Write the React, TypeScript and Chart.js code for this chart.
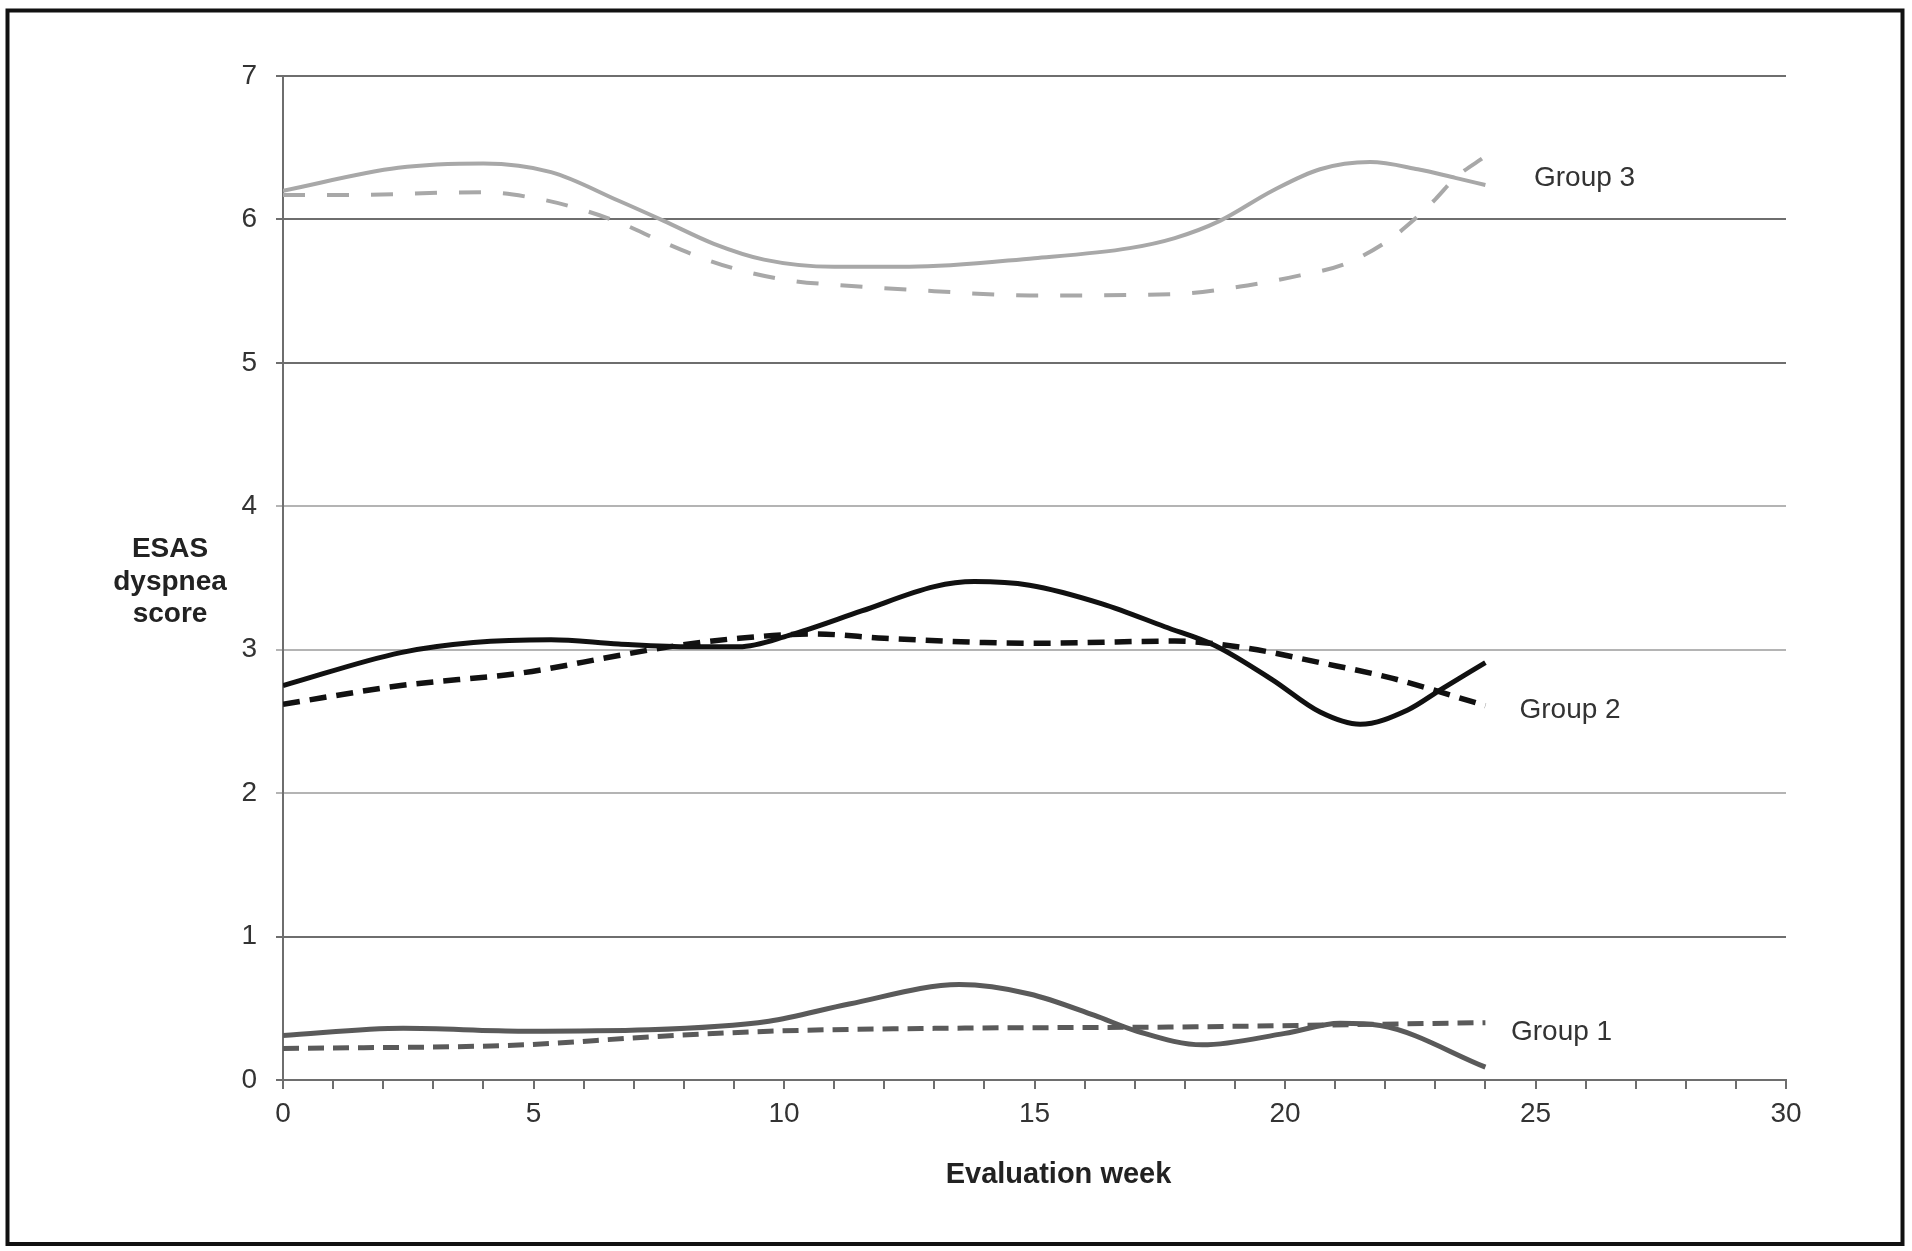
import React, { useEffect, useRef } from "react";
import { Chart, registerables } from "chart.js";

Chart.register(...registerables);

// ---- Data ----
const G3_OBS_WEEKS = [0, 2.3, 4.0, 5.35, 6.7, 7.6, 8.6, 9.6, 11.0, 12.5, 15.0, 16.9, 17.8, 18.7, 19.75, 20.7, 21.7, 22.65, 23.4, 24];
const G3_OBS_VALUES = [6.2, 6.36, 6.39, 6.33, 6.13, 5.99, 5.83, 5.72, 5.67, 5.67, 5.73, 5.8, 5.87, 5.99, 6.2, 6.35, 6.4, 6.35, 6.29, 6.24];

const G3_FIT_WEEKS = [0, 1.1, 4.0, 5.0, 5.85, 6.7, 7.6, 8.45, 9.3, 10.2, 11.2, 13.0, 14.9, 17.8, 19.25, 20.3, 21.2, 22.05, 22.55, 23.0, 23.4, 24];
const G3_FIT_VALUES = [6.17, 6.17, 6.19, 6.15, 6.08, 5.98, 5.84, 5.72, 5.63, 5.57, 5.54, 5.5, 5.47, 5.48, 5.54, 5.61, 5.69, 5.85, 5.99, 6.14, 6.29, 6.44];

const G2_OBS_WEEKS = [0, 2.35, 3.8, 5.35, 6.7, 8.15, 9.1, 10.1, 11.55, 13.0, 13.8, 14.9, 16.35, 17.6, 18.6, 19.75, 20.7, 21.5, 22.45, 23.1, 24];
const G2_OBS_VALUES = [2.75, 2.98, 3.05, 3.07, 3.04, 3.02, 3.02, 3.1, 3.27, 3.44, 3.475, 3.45, 3.32, 3.16, 3.03, 2.79, 2.565, 2.48, 2.58, 2.72, 2.91];

const G2_FIT_WEEKS = [0, 2.35, 4.8, 6.7, 7.7, 9.1, 10.6, 12.0, 14.0, 15.0, 17.8, 19.25, 20.7, 22.15, 24];
const G2_FIT_VALUES = [2.62, 2.75, 2.84, 2.96, 3.02, 3.08, 3.11, 3.08, 3.05, 3.045, 3.06, 3.01, 2.91, 2.8, 2.61];

const G1_OBS_WEEKS = [0, 2.4, 4.8, 7.3, 9.7, 11.3, 13.5, 14.9, 16.2, 17.05, 18.35, 20.0, 21.1, 21.9, 24];
const G1_OBS_VALUES = [0.31, 0.36, 0.34, 0.35, 0.41, 0.53, 0.665, 0.6, 0.45, 0.34, 0.245, 0.325, 0.395, 0.38, 0.09];

const G1_FIT_WEEKS = [0, 4.8, 7.3, 9.7, 13.0, 17.9, 24];
const G1_FIT_VALUES = [0.22, 0.245, 0.3, 0.34, 0.36, 0.37, 0.4];

const GROUP_LABELS = ["Group 3", "Group 2", "Group 1"];
const GROUP_LABEL_WEEKS = [24.97, 24.68, 24.51];
const GROUP_LABEL_VALUES = [6.29, 2.58, 0.334];

const X_TITLE = "Evaluation week";
const Y_TITLE_LINES = ["ESAS", "dyspnea", "score"];

const X_MIN = 0, X_MAX = 30, X_STEP = 1, X_LABEL_EVERY = 5;
const Y_MIN = 0, Y_MAX = 7, Y_STEP = 1;
const Y_LIGHT_GRID_VALUES = [2, 3, 4];

const FONT = '"Liberation Sans", Arial, Helvetica, sans-serif';
const DARK = "#6e6e6e";
const LIGHT = "#b4b4b4";

const toPts = (xs: number[], ys: number[]) => xs.map((x, i) => ({ x, y: ys[i] }));

const overlay = {
  id: "overlay",
  beforeDraw(chart: any) {
    const { ctx } = chart;
    ctx.save();
    ctx.fillStyle = "#ffffff";
    ctx.fillRect(0, 0, chart.width, chart.height);
    ctx.restore();
  },
  afterDraw(chart: any) {
    const { ctx, chartArea } = chart;
    const xs = chart.scales.x;
    const ys = chart.scales.y;
    ctx.save();
    // frame
    ctx.strokeStyle = "#111111";
    ctx.lineWidth = 4;
    ctx.strokeRect(7.5, 10.5, 1895, 1233.5);
    // group labels
    ctx.font = `28px ${FONT}`;
    ctx.fillStyle = "#333333";
    ctx.textAlign = "left";
    ctx.textBaseline = "middle";
    GROUP_LABELS.forEach((t, i) => {
      ctx.fillText(t, xs.getPixelForValue(GROUP_LABEL_WEEKS[i]), ys.getPixelForValue(GROUP_LABEL_VALUES[i]));
    });
    // y title
    ctx.font = `bold 28px ${FONT}`;
    ctx.fillStyle = "#222222";
    ctx.textAlign = "center";
    ctx.textBaseline = "alphabetic";
    Y_TITLE_LINES.forEach((t, i) => {
      ctx.fillText(t, 170, 557 + i * 32.5);
    });
    // x title
    ctx.font = `bold 29px ${FONT}`;
    ctx.fillText(X_TITLE, (chartArea.left + chartArea.right) / 2 + 24, 1183);
    ctx.restore();
  },
};

export default function App() {
  const ref = useRef<HTMLCanvasElement | null>(null);

  useEffect(() => {
    if (!ref.current) return;
    const line = (xs: number[], ys: number[], color: string, width: number, dash: number[]) => ({
      data: toPts(xs, ys),
      borderColor: color,
      backgroundColor: color,
      borderWidth: width,
      borderDash: dash,
      pointRadius: 0,
      fill: false,
      cubicInterpolationMode: "monotone" as const,
      borderCapStyle: "butt" as const,
    });
    const chart = new Chart(ref.current, {
      type: "line",
      data: {
        datasets: [
          line(G3_OBS_WEEKS, G3_OBS_VALUES, "#a8a8a8", 4, []),
          line(G3_FIT_WEEKS, G3_FIT_VALUES, "#a8a8a8", 4, [22, 22]),
          line(G2_OBS_WEEKS, G2_OBS_VALUES, "#111111", 5, []),
          line(G2_FIT_WEEKS, G2_FIT_VALUES, "#111111", 5.5, [17, 10]),
          line(G1_OBS_WEEKS, G1_OBS_VALUES, "#5a5a5a", 5, []),
          line(G1_FIT_WEEKS, G1_FIT_VALUES, "#5a5a5a", 5, [16, 9]),
        ],
      },
      options: {
        animation: false,
        responsive: false,
        devicePixelRatio: 1,
        layout: { padding: { left: 0, right: 126, top: 76, bottom: 0 } },
        plugins: { legend: { display: false }, tooltip: { enabled: false } },
        scales: {
          x: {
            type: "linear",
            min: X_MIN,
            max: X_MAX,
            afterFit: (s: any) => { s.height = 171; },
            ticks: {
              stepSize: X_STEP,
              autoSkip: false,
              maxRotation: 0,
              padding: 8,
              color: "#333333",
              font: { family: FONT, size: 28 },
              callback: (v: any) => (Number(v) % X_LABEL_EVERY === 0 ? String(v) : ""),
            },
            grid: { drawOnChartArea: false, drawTicks: true, tickLength: 9, color: DARK, lineWidth: 2 },
            border: { display: true, color: DARK, width: 2 },
          },
          y: {
            type: "linear",
            min: Y_MIN,
            max: Y_MAX,
            afterFit: (s: any) => { s.width = 283; },
            ticks: {
              stepSize: Y_STEP,
              padding: 19,
              color: "#333333",
              font: { family: FONT, size: 28 },
            },
            grid: {
              drawTicks: true,
              tickLength: 7,
              lineWidth: 2,
              color: (c: any) => (c.tick && Y_LIGHT_GRID_VALUES.includes(c.tick.value) ? LIGHT : DARK),
            },
            border: { display: true, color: DARK, width: 2 },
          },
        },
      },
      plugins: [overlay],
    });
    return () => chart.destroy();
  }, []);

  return (
    <div style={{ position: "fixed", left: 0, top: 0, width: 1912, height: 1251, background: "#fff" }}>
      <canvas ref={ref} width={1912} height={1251} style={{ display: "block", width: 1912, height: 1251 }} />
    </div>
  );
}
